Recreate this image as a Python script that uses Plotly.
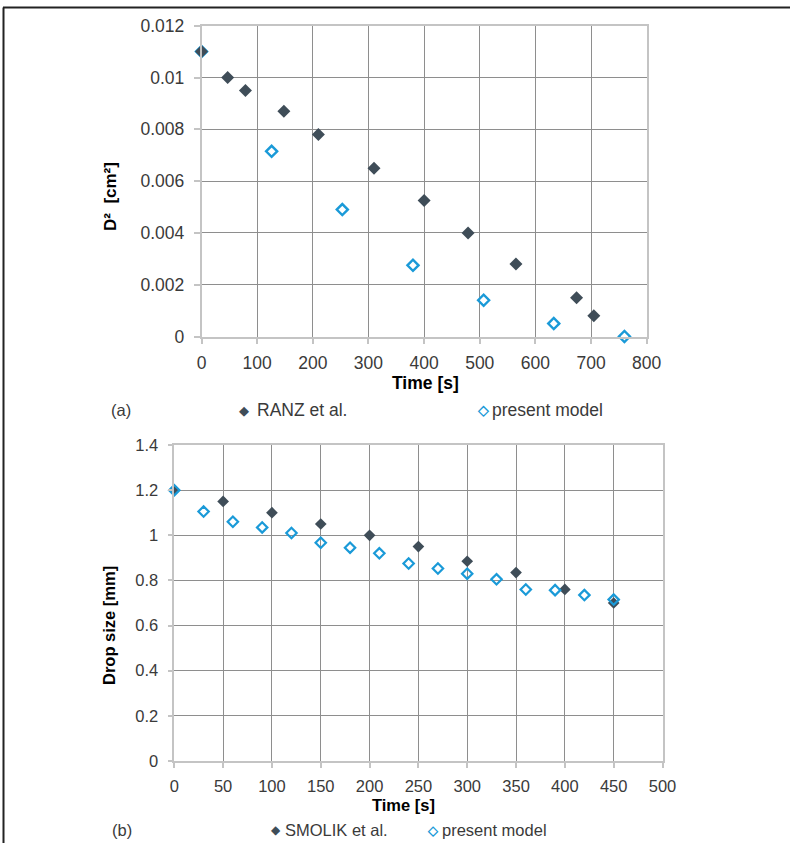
import plotly.graph_objects as go

# ---- (a) squared diameter vs time ----
ranz_t = [0, 47, 79, 148, 210, 310, 400, 479, 565, 674, 705]
ranz_d2 = [0.0110, 0.0100, 0.0095, 0.0087, 0.0078, 0.0065, 0.00525, 0.0040, 0.0028, 0.0015, 0.0008]
model_a_t = [0, 126, 253, 380, 507, 633, 760]
model_a_d2 = [0.0110, 0.00715, 0.0049, 0.00275, 0.0014, 0.0005, 0.0]

# ---- (b) drop size vs time ----
smolik_t = [0, 50, 100, 150, 200, 250, 300, 350, 400, 450]
smolik_d = [1.20, 1.15, 1.10, 1.05, 1.00, 0.95, 0.885, 0.835, 0.76, 0.70]
model_b_t = [0, 30, 60, 90, 120, 150, 180, 210, 240, 270, 300, 330, 360, 390, 420, 450]
model_b_d = [1.20, 1.105, 1.06, 1.035, 1.01, 0.967, 0.945, 0.92, 0.875, 0.853, 0.83, 0.805,
             0.76, 0.757, 0.735, 0.715]

xticks_a = [0, 100, 200, 300, 400, 500, 600, 700, 800]
yticks_a = [0, 0.002, 0.004, 0.006, 0.008, 0.01, 0.012]
xticks_b = [0, 50, 100, 150, 200, 250, 300, 350, 400, 450, 500]
yticks_b = [0, 0.2, 0.4, 0.6, 0.8, 1, 1.2, 1.4]

DARK = "#3f4d58"
BLUE = "#1a9ad8"
FRAME = "#c4c4c4"
GRID = "#8e8e8e"
TXT = "#3a3a3a"
FONT = "Liberation Sans, Arial, sans-serif"

W, H = 790, 843

def px(x):
    return x / W

def py(y):
    return 1 - y / H

fig = go.Figure()

fig.add_trace(go.Scatter(x=model_a_t, y=model_a_d2, mode="markers", cliponaxis=False,
                         marker=dict(symbol="diamond-open", size=8.5, color=BLUE,
                                     line=dict(width=2.4, color=BLUE)),
                         xaxis="x", yaxis="y", showlegend=False))
fig.add_trace(go.Scatter(x=ranz_t, y=ranz_d2, mode="markers", cliponaxis=False,
                         marker=dict(symbol="diamond", size=10, color=DARK, line=dict(width=0)),
                         xaxis="x", yaxis="y", showlegend=False))

fig.add_trace(go.Scatter(x=smolik_t, y=smolik_d, mode="markers", cliponaxis=False,
                         marker=dict(symbol="diamond", size=9, color=DARK, line=dict(width=0)),
                         xaxis="x2", yaxis="y2", showlegend=False))
fig.add_trace(go.Scatter(x=model_b_t, y=model_b_d, mode="markers", cliponaxis=False,
                         marker=dict(symbol="diamond-open", size=8, color=BLUE,
                                     line=dict(width=2.2, color=BLUE)),
                         xaxis="x2", yaxis="y2", showlegend=False))

def axis_style(size, ticklen):
    return dict(showline=True, mirror=True, linecolor=FRAME, linewidth=1.5,
                showgrid=True, gridcolor=GRID, gridwidth=1, zeroline=False,
                automargin=False,
                ticks="outside", ticklen=ticklen, tickcolor=FRAME, tickwidth=1.5,
                tickfont=dict(family=FONT, size=size, color=TXT))

fig.update_layout(
    width=W, height=H, margin=dict(l=0, r=0, t=0, b=0, pad=0, autoexpand=False),
    paper_bgcolor="white", plot_bgcolor="white",
    xaxis=dict(domain=[px(201.5), px(646.7)], range=[0, 800], tickvals=xticks_a,
               anchor="y", ticklabelstandoff=4, **axis_style(17.5, 6)),
    yaxis=dict(domain=[py(336.5), py(25.7)], range=[0, 0.012], tickvals=yticks_a,
               ticktext=[f"{v:g}" for v in yticks_a], anchor="x",
               ticklabelstandoff=6, **axis_style(17.5, 6)),
    xaxis2=dict(domain=[px(174.3), px(662.5)], range=[0, 500], tickvals=xticks_b,
                anchor="y2", ticklabelstandoff=4, **axis_style(16.5, 5)),
    yaxis2=dict(domain=[py(761), py(445)], range=[0, 1.4], tickvals=yticks_b,
                ticktext=[f"{v:g}" for v in yticks_b], anchor="x2",
                ticklabelstandoff=6, **axis_style(16.5, 5)),
)

def note(x, y, text, size, color="black", bold=False, anchor="center", angle=0):
    if bold:
        text = f"<b>{text}</b>"
    fig.add_annotation(x=px(x), y=py(y), xref="paper", yref="paper", text=text,
                       showarrow=False, xanchor=anchor, yanchor="middle",
                       textangle=angle, borderpad=0,
                       font=dict(family=FONT, size=size, color=color))

# axis titles
note(425, 383, "Time [s]", 17.5, bold=True)
note(110, 197, "D²  [cm²]", 17, bold=True, angle=-90)
note(403, 805, "Time [s]", 16.5, bold=True)
note(109, 626, "Drop size [mm]", 16.5, bold=True, angle=-90)

# panel labels and key
note(121, 410, "(a)", 16.5, color=TXT)
note(244, 410, "◆", 13, color=DARK)
note(256, 410, "RANZ et al.", 17.5, color=TXT, anchor="left")
note(483, 410, "<b>◇</b>", 14, color=BLUE)
note(491, 410, "present model", 17.5, color=TXT, anchor="left")

note(122, 830, "(b)", 16.5, color=TXT)
note(276, 830, "◆", 12, color=DARK)
note(284, 830, "SMOLIK et al.", 16.5, color=TXT, anchor="left")
note(433, 830, "<b>◇</b>", 13, color=BLUE)
note(441, 830, "present model", 16.5, color=TXT, anchor="left")

# outer frame (top and left edges)
fig.add_shape(type="line", xref="paper", yref="paper", x0=px(3), x1=1, y0=py(7.5), y1=py(7.5),
              line=dict(color="#222222", width=2))
fig.add_shape(type="line", xref="paper", yref="paper", x0=px(3.5), x1=px(3.5), y0=py(7.5), y1=0,
              line=dict(color="#222222", width=2))

fig.write_html("out.html")
